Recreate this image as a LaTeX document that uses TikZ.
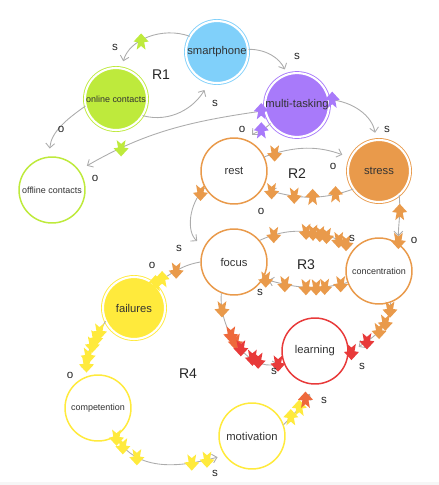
\documentclass[tikz,border=0pt]{standalone}
\usepackage{fontspec}
\setmainfont{Liberation Sans}
\usetikzlibrary{arrows.meta,decorations.markings}

\definecolor{skyc}{RGB}{128,208,250}
\definecolor{limec}{RGB}{190,234,60}
\definecolor{violc}{RGB}{168,122,250}
\definecolor{orc}{RGB}{233,154,75}
\definecolor{redc}{RGB}{232,58,58}
\definecolor{redor}{RGB}{238,105,60}
\definecolor{yelc}{RGB}{255,234,60}

% particle on a link, always upright (0 = down, 180 = up)
\newcommand{\chev}[2]{\pgftransformresetnontranslations
  \fill[#1,rotate=#2,scale=1.25] (0,-3.7pt) -- (3.4pt,0pt) -- (1.4pt,0.3pt) -- (2pt,3.7pt) -- (0,2pt)
    -- (-2pt,3.7pt) -- (-1.4pt,0.3pt) -- (-3.4pt,0pt) -- cycle;}

\begin{document}
\begin{tikzpicture}[x=0.02cm, y=0.02cm,
    hub/.style={circle, draw=#1, fill=#1, line width=0.5pt, double=white, double distance=1.2pt, minimum size=1.24cm, inner sep=0pt, align=center, text=black!80, font=\fontsize{6.4}{7}\selectfont},
    ring/.style={circle, draw=#1, fill=white, line width=0.85pt, minimum size=1.32cm, inner sep=0pt, align=center, text=black!80, font=\fontsize{6.4}{7}\selectfont},
    longtext/.style={font=\fontsize{5.1}{6}\selectfont},
    link/.style={draw=gray!65, line width=0.5pt, -{Straight Barb[length=2.6pt,width=5pt]}},
    parts/.style={postaction={decorate, decoration={markings, #1}}},
    lbl/.style={font=\fontsize{6.6}{7}\selectfont, text=black!85, inner sep=0pt},
    loopname/.style={font=\fontsize{8}{9}\selectfont, text=black!85, inner sep=0pt}
]
\useasboundingbox (0,0) rectangle (439,-485);
\fill[gray!7] (0,-482) rectangle (439,-485);

\node[hub=skyc] (smart) at (217,-52) {smartphone};
\node[hub=limec, longtext] (online) at (116,-99) {online contacts};
\node[ring=limec, longtext] (offline) at (52,-190) {offline contacts};
\node[hub=violc] (multi) at (297,-105) {multi-tasking};
\node[ring=orc] (rest) at (234,-171) {rest};
\node[hub=orc] (stress) at (379,-171) {stress};
\node[ring=orc] (focus) at (234,-262) {focus};
\node[ring=orc, longtext] (conc) at (379,-271) {concentration};
\node[ring=redc] (learn) at (315,-351) {learning};
\node[hub=yelc] (fail) at (134,-308) {failures};
\node[ring=yelc, longtext] (compet) at (98,-408) {competention};
\node[ring=yelc] (motiv) at (252,-436) {motivation};

\node[loopname] (r1) at (161,-75) {R1};
\node[loopname] (r2) at (297,-174) {R2};
\node[loopname] (r3) at (306,-265) {R3};
\node[loopname] (r4) at (188,-374) {R4};

% loop R1
\draw[link, shorten >=4pt, parts={mark=at position .6 with {\chev{limec}{180}}}] (smart.150) to[out=160,in=75] (online.80);
\draw[link, shorten >=5pt] (online.-32) to[out=-15,in=240] (smart.-105);
\draw[link, shorten >=4.5pt] (online.193) to[out=215,in=85] (offline.95);
\draw[link, shorten >=5pt, parts={mark=at position .02 with {\chev{violc}{180}}, mark=at position .76 with {\chev{limec}{0}}}] (multi.190) to[out=188,in=30] (offline.36);
\draw[link, shorten >=3pt] (smart.5) to[out=0,in=115] (multi.108);
\node[lbl] (s1) at (115,-47) {s};
\node[lbl] (s2) at (215,-103) {s};
\node[lbl] (o1) at (61,-129) {o};
\node[lbl] (o2) at (95,-178) {o};
\node[lbl] (s3) at (297,-56) {s};

% loop R2
\draw[link, shorten >=4pt, parts={mark=at position .05 with {\chev{violc}{180}}}] (multi.10) to[out=-5,in=100] (stress.95);
\draw[link, shorten >=4pt, parts={mark=at position .4 with {\chev{violc}{180}}}] (multi.215) to[out=225,in=45] (rest.67);
\draw[link, shorten >=5pt, parts={mark=at position .12 with {\chev{orc}{0}}}] (rest.25) to[out=20,in=160] (stress.155);
\draw[link, shorten >=4.5pt, parts={mark=at position .2 with {\chev{orc}{180}}, mark=at position .45 with {\chev{orc}{180}}, mark=at position .65 with {\chev{orc}{0}}, mark=at position .9 with {\chev{orc}{0}}}] (stress.215) to[out=200,in=-15] (rest.-32);
\draw[link, shorten >=4pt, parts={mark=at position .35 with {\chev{orc}{180}}, mark=at position .95 with {\chev{orc}{0}}}] (stress.-50) to[out=-85,in=90] (conc.55);
\draw[link, shorten >=5pt, parts={mark=at position .1 with {\chev{orc}{0}}}] (rest.210) to[out=225,in=140] (focus.153);
\node[lbl] (s4) at (387,-129) {s};
\node[lbl] (o3) at (242,-129) {o};
\node[lbl] (o4) at (333,-166) {o};
\node[lbl] (o5) at (261,-211) {o};
\node[lbl] (o6) at (414,-240) {o};
\node[lbl] (s5) at (179,-248) {s};

% loop R3
\draw[link, shorten >=3pt, parts={mark=at position .15 with {\chev{orc}{0}}, mark=at position .48 with {\chev{orc}{0}}, mark=at position .55 with {\chev{orc}{0}}, mark=at position .62 with {\chev{orc}{0}}, mark=at position .69 with {\chev{orc}{0}}, mark=at position .82 with {\chev{orc}{0}}, mark=at position .9 with {\chev{orc}{0}}}] (focus.40) to[out=25,in=155] (conc.135);
\draw[link, shorten >=3pt, parts={mark=at position .08 with {\chev{orc}{0}}, mark=at position .27 with {\chev{orc}{0}}, mark=at position .37 with {\chev{orc}{0}}, mark=at position .49 with {\chev{orc}{0}}, mark=at position .74 with {\chev{orc}{0}}, mark=at position .97 with {\chev{orc}{0}}}] (conc.200) to[out=195,in=-15] (focus.-30);
\draw[link, shorten >=3pt, parts={mark=at position .15 with {\chev{orc}{0}}, mark=at position .4 with {\chev{redor}{0}}, mark=at position .48 with {\chev{redor}{0}}, mark=at position .56 with {\chev{redc}{0}}, mark=at position .7 with {\chev{redc}{0}}, mark=at position .76 with {\chev{redc}{0}}, mark=at position .95 with {\chev{redc}{0}}}] (focus.248) to[out=265,in=195] (learn.200);
\draw[link, shorten >=7pt, parts={mark=at position .1 with {\chev{orc}{0}}, mark=at position .3 with {\chev{orc}{0}}, mark=at position .45 with {\chev{orc}{0}}, mark=at position .68 with {\chev{redc}{0}}, mark=at position .95 with {\chev{redc}{0}}}] (conc.-70) to[out=-90,in=35] (learn.-5);
\node[lbl] (s6) at (352,-238) {s};
\node[lbl] (s7) at (260,-292) {s};
\node[lbl] (s8) at (274,-371) {s};
\node[lbl] (s9) at (362,-366) {s};

% loop R4
\draw[link, shorten >=2pt, parts={mark=at position .5 with {\chev{orc}{0}}, mark=at position .82 with {\chev{yelc}{180}}, mark=at position .97 with {\chev{yelc}{180}}}] (focus.180) to[out=190,in=30] (fail.50);
\draw[link, shorten >=3pt, parts={mark=at position .2 with {\chev{yelc}{0}}, mark=at position .33 with {\chev{yelc}{0}}, mark=at position .45 with {\chev{yelc}{0}}, mark=at position .65 with {\chev{yelc}{0}}, mark=at position .8 with {\chev{yelc}{0}}}] (fail.205) to[out=240,in=95] (compet.110);
\draw[link, shorten >=4pt, parts={mark=at position .01 with {\chev{yelc}{0}}, mark=at position .1 with {\chev{yelc}{0}}, mark=at position .25 with {\chev{yelc}{0}}, mark=at position .72 with {\chev{yelc}{0}}, mark=at position .85 with {\chev{yelc}{0}}}] (compet.-58) to[out=-60,in=195] (motiv.215);
\draw[link, shorten >=6pt, parts={mark=at position .2 with {\chev{yelc}{180}}, mark=at position .45 with {\chev{yelc}{180}}, mark=at position .65 with {\chev{redor}{180}}}] (motiv.20) to[out=45,in=240] (learn.-90);
\node[lbl] (o7) at (152,-265) {o};
\node[lbl] (o8) at (70,-375) {o};
\node[lbl] (s10) at (215,-473) {s};
\node[lbl] (s11) at (324,-400) {s};
\end{tikzpicture}
\end{document}
